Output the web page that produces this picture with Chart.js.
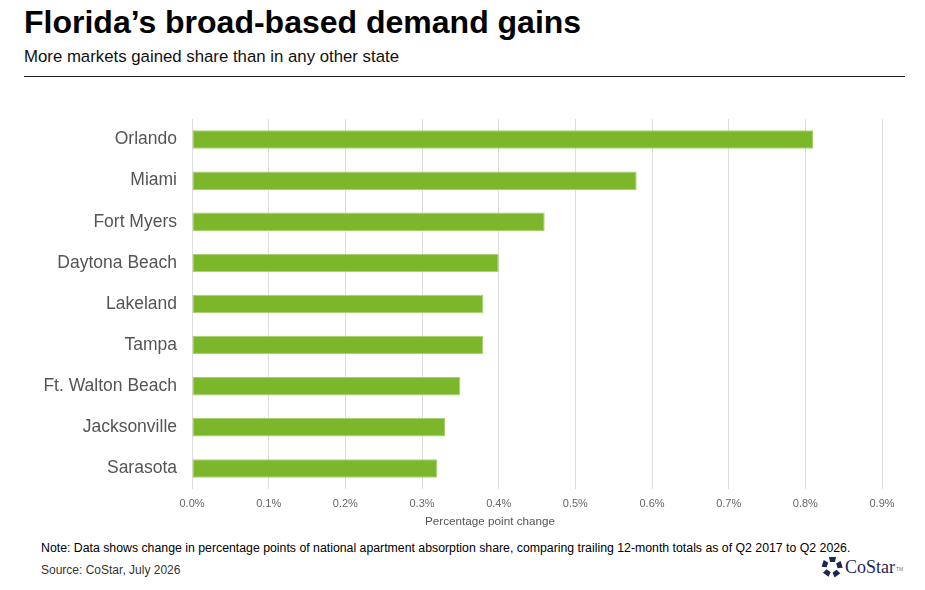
<!DOCTYPE html>
<html>
<head>
<meta charset="utf-8">
<script src="https://cdn.jsdelivr.net/npm/chart.js@4.4.1/dist/chart.umd.min.js"></script>
<style>
  body { margin: 0; width: 925px; height: 590px; background: #fff; font-family: "Liberation Sans", Arial, sans-serif; position: relative; overflow: hidden; }
  .title { position: absolute; left: 24px; top: 4px; font-size: 32px; font-weight: bold; color: #000; }
  .subtitle { position: absolute; left: 24px; top: 47px; font-size: 16.8px; color: #111; }
  .rule { position: absolute; left: 24px; top: 76px; width: 881px; height: 1px; background: #222; }
  .chart-box { position: absolute; left: 0; top: 90px; width: 925px; height: 445px; }
  .axis-title { position: absolute; left: 490px; top: 514px; transform: translateX(-50%); font-size: 11.7px; color: #555; white-space: nowrap; }
  .note { position: absolute; left: 41px; top: 541px; font-size: 12.3px; color: #000; white-space: nowrap; }
  .source { position: absolute; left: 41px; top: 563px; font-size: 12px; color: #333; }
  .logo { position: absolute; left: 821px; top: 556px; display: flex; align-items: center; }
  .logo span { font-family: "Liberation Serif", "DejaVu Serif", serif; font-size: 18px; color: #1d2756; margin-left: 2px; }
  .logo sup { font-size: 5px; color: #777; vertical-align: top; margin-top: 4px; margin-left: 1px; }
</style>
</head>
<body>
<div class="title">Florida’s broad-based demand gains</div>
<div class="subtitle">More markets gained share than in any other state</div>
<div class="rule"></div>
<div class="chart-box"><canvas id="chart"></canvas></div>
<div class="axis-title">Percentage point change</div>
<div class="note">Note: Data shows change in percentage points of national apartment absorption share, comparing trailing 12-month totals as of Q2 2017 to Q2 2026.</div>
<div class="source">Source: CoStar, July 2026</div>
<div class="logo">
  <svg width="22" height="22" viewBox="-11 -11 22 22">
    <g fill="#1d2756">
      <path d="M-3,-10 L4,-10 L3,-5 L-2,-5 Z" transform="rotate(0)"/>
      <path d="M-3,-10 L4,-10 L3,-5 L-2,-5 Z" transform="rotate(72)"/>
      <path d="M-3,-10 L4,-10 L3,-5 L-2,-5 Z" transform="rotate(144)"/>
      <path d="M-3,-10 L4,-10 L3,-5 L-2,-5 Z" transform="rotate(216)"/>
      <path d="M-3,-10 L4,-10 L3,-5 L-2,-5 Z" transform="rotate(288)"/>
    </g>
  </svg>
  <span>CoStar</span><sup>TM</sup>
</div>
<script>
const markets = ['Orlando', 'Miami', 'Fort Myers', 'Daytona Beach', 'Lakeland', 'Tampa', 'Ft. Walton Beach', 'Jacksonville', 'Sarasota'];
const shareChange = [0.81, 0.58, 0.46, 0.40, 0.38, 0.38, 0.35, 0.33, 0.32];
const xTicks = [0, 0.1, 0.2, 0.3, 0.4, 0.5, 0.6, 0.7, 0.8, 0.9];

const ctx = document.getElementById('chart').getContext('2d');
new Chart(ctx, {
    type: 'bar',
    data: {
        labels: markets,
        datasets: [{
            data: shareChange,
            backgroundColor: '#7bb62b',
            borderColor: '#a6d070',
            borderWidth: 1,
            borderSkipped: false,
            barPercentage: 0.9,
            categoryPercentage: 0.5,
        }],
    },
    options: {
        indexAxis: 'y',
        responsive: true,
        maintainAspectRatio: false,
        animation: false,
        layout: { padding: { top: 29, right: 43, left: 0, bottom: 0 } },
        plugins: { legend: { display: false }, tooltip: { enabled: false } },
        scales: {
            x: {
                min: 0,
                max: 0.9,
                afterBuildTicks: axis => { axis.ticks = xTicks.map(v => ({ value: v })); },
                afterFit: axis => { axis.height = 46; },
                grid: { color: '#dedede', drawTicks: false },
                border: { display: false },
                ticks: {
                    padding: 8,
                    color: '#666',
                    font: { family: 'Liberation Sans', size: 11 },
                    callback: v => v.toFixed(1) + '%',
                },
            },
            y: {
                afterFit: axis => { axis.width = 192; },
                grid: { display: false, drawTicks: false },
                border: { display: false },
                ticks: {
                    padding: 15,
                    color: '#555',
                    font: { family: 'Liberation Sans', size: 17.5 },
                },
            },
        },
    },
});
</script>
</body>
</html>
